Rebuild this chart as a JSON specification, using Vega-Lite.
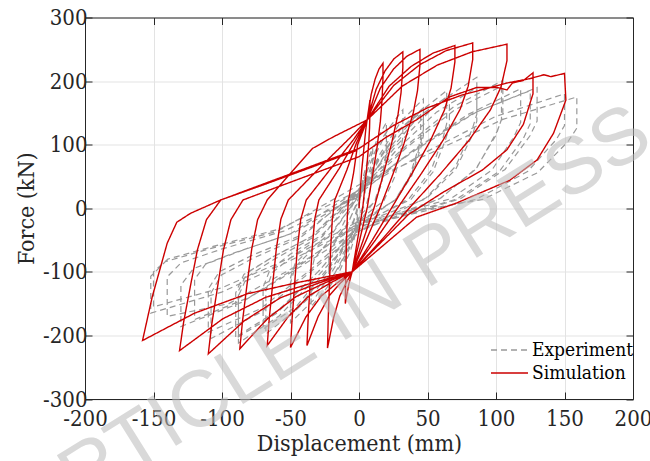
{
"$schema":"https://vega.github.io/schema/vega-lite/v6.json",
"width":548,"height":381.5,
"autosize":{"type":"none"},
"padding":{"left":85,"top":17.5,"right":17,"bottom":62},
"background":"white",
"config":{
 "view":{"stroke":null},
 "axis":{"labelFont":"DejaVu Serif Condensed","labelFontSize":22,"labelColor":"#262626","titleFont":"DejaVu Serif Condensed","titleFontSize":23,"titleFontWeight":"normal","titleColor":"#262626","domainColor":"#262626","domainWidth":1,"tickColor":"#262626","tickSize":-7,"tickWidth":1,"gridColor":"#e3e3e3","gridWidth":1,"labelFlush":false,"labelOverlap":false}
},
"datasets":{"curves":[
{"s":"Experiment","x":0,"y":0},{"s":"Experiment","x":1.65,"y":33},{"s":"Experiment","x":3.3,"y":46},{"s":"Experiment","x":5,"y":55},{"s":"Experiment","x":5,"y":40},{"s":"Experiment","x":4.8,"y":33},{"s":"Experiment","x":4.1,"y":18},{"s":"Experiment","x":2.85,"y":4},{"s":"Experiment","x":0,"y":-15},{"s":"Experiment","x":-1.65,"y":-31},{"s":"Experiment","x":-3.3,"y":-42},{"s":"Experiment","x":-5,"y":-50},
{"s":"Experiment","x":-5,"y":-32.5},{"s":"Experiment","x":-4.65,"y":-25.5},{"s":"Experiment","x":-3.55,"y":-19},{"s":"Experiment","x":-1.95,"y":-11},{"s":"Experiment","x":0,"y":10},{"s":"Experiment","x":3.3,"y":51},{"s":"Experiment","x":6.6,"y":77},{"s":"Experiment","x":10,"y":95},{"s":"Experiment","x":10,"y":68},{"s":"Experiment","x":9.6,"y":57},{"s":"Experiment","x":8.2,"y":30},{"s":"Experiment","x":5.7,"y":8},{"s":"Experiment","x":-1,"y":-10},{"s":"Experiment","x":-3.3,"y":-46.5},{"s":"Experiment","x":-6.6,"y":-69.6},{"s":"Experiment","x":-10,"y":-85},
{"s":"Experiment","x":-10,"y":-55},{"s":"Experiment","x":-9.3,"y":-43},{"s":"Experiment","x":-7.1,"y":-32},{"s":"Experiment","x":-3.9,"y":-19},{"s":"Experiment","x":1,"y":18},{"s":"Experiment","x":6.6,"y":69},{"s":"Experiment","x":13.2,"y":108.6},{"s":"Experiment","x":20,"y":135},{"s":"Experiment","x":20,"y":97},{"s":"Experiment","x":19.2,"y":81},{"s":"Experiment","x":16.4,"y":43},{"s":"Experiment","x":11.4,"y":11},{"s":"Experiment","x":1,"y":-18},{"s":"Experiment","x":-7.26,"y":-64.5},{"s":"Experiment","x":-14.5,"y":-100.8},{"s":"Experiment","x":-22,"y":-125},
{"s":"Experiment","x":-22,"y":-81},{"s":"Experiment","x":-20.5,"y":-64},{"s":"Experiment","x":-15.6,"y":-47.5},{"s":"Experiment","x":-8.6,"y":-27.5},{"s":"Experiment","x":-1,"y":12},{"s":"Experiment","x":6.6,"y":62},{"s":"Experiment","x":13.2,"y":97},{"s":"Experiment","x":20,"y":120},{"s":"Experiment","x":20,"y":86},{"s":"Experiment","x":19.2,"y":72},{"s":"Experiment","x":16.4,"y":38},{"s":"Experiment","x":11.4,"y":10},{"s":"Experiment","x":0,"y":-12},{"s":"Experiment","x":-7.26,"y":-60},{"s":"Experiment","x":-14.5,"y":-93},{"s":"Experiment","x":-22,"y":-115},
{"s":"Experiment","x":-22,"y":-75},{"s":"Experiment","x":-20.5,"y":-59},{"s":"Experiment","x":-15.6,"y":-44},{"s":"Experiment","x":-8.6,"y":-25},{"s":"Experiment","x":2,"y":22},{"s":"Experiment","x":10.6,"y":78},{"s":"Experiment","x":21.1,"y":124},{"s":"Experiment","x":32,"y":155},{"s":"Experiment","x":32,"y":112},{"s":"Experiment","x":30.7,"y":93},{"s":"Experiment","x":26.2,"y":50},{"s":"Experiment","x":18.2,"y":12},{"s":"Experiment","x":-2,"y":-22},{"s":"Experiment","x":-11.55,"y":-78},{"s":"Experiment","x":-23.1,"y":-124},{"s":"Experiment","x":-35,"y":-155},
{"s":"Experiment","x":-35,"y":-101},{"s":"Experiment","x":-32.55,"y":-79},{"s":"Experiment","x":-24.85,"y":-59},{"s":"Experiment","x":-13.65,"y":-34},{"s":"Experiment","x":0,"y":25},{"s":"Experiment","x":15.5,"y":86},{"s":"Experiment","x":31,"y":137.5},{"s":"Experiment","x":47,"y":172},{"s":"Experiment","x":47,"y":124},{"s":"Experiment","x":45.1,"y":103},{"s":"Experiment","x":38.5,"y":55},{"s":"Experiment","x":26.8,"y":14},{"s":"Experiment","x":1,"y":-25},{"s":"Experiment","x":-16.5,"y":-89},{"s":"Experiment","x":-33,"y":-144},{"s":"Experiment","x":-50,"y":-180},
{"s":"Experiment","x":-50,"y":-117},{"s":"Experiment","x":-46.5,"y":-92},{"s":"Experiment","x":-35.5,"y":-68},{"s":"Experiment","x":-19.5,"y":-40},{"s":"Experiment","x":-2,"y":15},{"s":"Experiment","x":15.5,"y":79},{"s":"Experiment","x":31,"y":126.5},{"s":"Experiment","x":47,"y":158},{"s":"Experiment","x":47,"y":114},{"s":"Experiment","x":45.1,"y":95},{"s":"Experiment","x":38.5,"y":51},{"s":"Experiment","x":26.8,"y":13},{"s":"Experiment","x":0,"y":-20},{"s":"Experiment","x":-16.5,"y":-84},{"s":"Experiment","x":-33,"y":-134},{"s":"Experiment","x":-50,"y":-168},
{"s":"Experiment","x":-50,"y":-109},{"s":"Experiment","x":-46.5,"y":-86},{"s":"Experiment","x":-35.5,"y":-64},{"s":"Experiment","x":-19.5,"y":-37},{"s":"Experiment","x":3,"y":28},{"s":"Experiment","x":21.1,"y":91.5},{"s":"Experiment","x":42.2,"y":147.6},{"s":"Experiment","x":64,"y":185},{"s":"Experiment","x":64,"y":133},{"s":"Experiment","x":61.4,"y":111},{"s":"Experiment","x":52.5,"y":59},{"s":"Experiment","x":36.5,"y":15},{"s":"Experiment","x":-2,"y":-30},{"s":"Experiment","x":-22.4,"y":-97},{"s":"Experiment","x":-44.9,"y":-158},{"s":"Experiment","x":-68,"y":-198},
{"s":"Experiment","x":-68,"y":-129},{"s":"Experiment","x":-63.2,"y":-101},{"s":"Experiment","x":-48.3,"y":-75},{"s":"Experiment","x":-26.5,"y":-44},{"s":"Experiment","x":1,"y":32},{"s":"Experiment","x":28.4,"y":101},{"s":"Experiment","x":56.8,"y":164},{"s":"Experiment","x":86,"y":206},{"s":"Experiment","x":86,"y":148},{"s":"Experiment","x":82.6,"y":124},{"s":"Experiment","x":70.5,"y":66},{"s":"Experiment","x":49,"y":16.5},{"s":"Experiment","x":1,"y":-35},{"s":"Experiment","x":-29,"y":-104},{"s":"Experiment","x":-58.1,"y":-169},{"s":"Experiment","x":-88,"y":-212},
{"s":"Experiment","x":-88,"y":-138},{"s":"Experiment","x":-81.8,"y":-108},{"s":"Experiment","x":-62.5,"y":-81},{"s":"Experiment","x":-34.3,"y":-47},{"s":"Experiment","x":-2,"y":20},{"s":"Experiment","x":28.4,"y":94},{"s":"Experiment","x":56.8,"y":151.5},{"s":"Experiment","x":86,"y":190},{"s":"Experiment","x":86,"y":137},{"s":"Experiment","x":82.6,"y":114},{"s":"Experiment","x":70.5,"y":61},{"s":"Experiment","x":49,"y":15},{"s":"Experiment","x":0,"y":-25},{"s":"Experiment","x":-29,"y":-98},{"s":"Experiment","x":-58.1,"y":-159},{"s":"Experiment","x":-88,"y":-200},
{"s":"Experiment","x":-88,"y":-130},{"s":"Experiment","x":-81.8,"y":-102},{"s":"Experiment","x":-62.5,"y":-76},{"s":"Experiment","x":-34.3,"y":-44},{"s":"Experiment","x":2,"y":35},{"s":"Experiment","x":34.65,"y":98.7},{"s":"Experiment","x":69.3,"y":160},{"s":"Experiment","x":105,"y":201},{"s":"Experiment","x":105,"y":145},{"s":"Experiment","x":100.8,"y":121},{"s":"Experiment","x":86.1,"y":64},{"s":"Experiment","x":59.85,"y":16},{"s":"Experiment","x":-2,"y":-38},{"s":"Experiment","x":-35.6,"y":-100.5},{"s":"Experiment","x":-71.3,"y":-163},{"s":"Experiment","x":-108,"y":-205},
{"s":"Experiment","x":-108,"y":-133},{"s":"Experiment","x":-100.4,"y":-105},{"s":"Experiment","x":-76.7,"y":-78},{"s":"Experiment","x":-42.1,"y":-45},{"s":"Experiment","x":0,"y":30},{"s":"Experiment","x":42.9,"y":94},{"s":"Experiment","x":85.8,"y":151.5},{"s":"Experiment","x":130,"y":190},{"s":"Experiment","x":130,"y":137},{"s":"Experiment","x":124.8,"y":114},{"s":"Experiment","x":106.6,"y":61},{"s":"Experiment","x":74.1,"y":15},{"s":"Experiment","x":1,"y":-32},{"s":"Experiment","x":-42.9,"y":-92},{"s":"Experiment","x":-85.8,"y":-148},{"s":"Experiment","x":-130,"y":-186},
{"s":"Experiment","x":-130,"y":-121},{"s":"Experiment","x":-120.9,"y":-95},{"s":"Experiment","x":-92.3,"y":-71},{"s":"Experiment","x":-50.7,"y":-41},{"s":"Experiment","x":-3,"y":25},{"s":"Experiment","x":49.5,"y":89},{"s":"Experiment","x":99,"y":143.7},{"s":"Experiment","x":150,"y":180},{"s":"Experiment","x":150,"y":130},{"s":"Experiment","x":144,"y":108},{"s":"Experiment","x":123,"y":57.6},{"s":"Experiment","x":85.5,"y":14},{"s":"Experiment","x":0,"y":-28},{"s":"Experiment","x":-50.2,"y":-82.5},{"s":"Experiment","x":-100.3,"y":-132},{"s":"Experiment","x":-152,"y":-165},
{"s":"Experiment","x":-152,"y":-107},{"s":"Experiment","x":-141.4,"y":-84},{"s":"Experiment","x":-107.9,"y":-63},{"s":"Experiment","x":-59.3,"y":-36},{"s":"Experiment","x":1,"y":38},{"s":"Experiment","x":52.5,"y":87},{"s":"Experiment","x":105,"y":139.8},{"s":"Experiment","x":159,"y":175},{"s":"Experiment","x":159,"y":126},{"s":"Experiment","x":152.6,"y":105},{"s":"Experiment","x":130.4,"y":56},{"s":"Experiment","x":90.6,"y":14},
{"s":"Experiment","x":0,"y":-20},{"s":"Experiment","x":-50,"y":-78},{"s":"Experiment","x":-100,"y":-125},{"s":"Experiment","x":-150,"y":-155},
{"s":"Experiment","x":-150,"y":-100},{"s":"Experiment","x":-139.5,"y":-80},{"s":"Experiment","x":-106.5,"y":-60},{"s":"Experiment","x":-58.5,"y":-33},{"s":"Experiment","x":2,"y":30},{"s":"Experiment","x":42,"y":95},{"s":"Experiment","x":84,"y":150},{"s":"Experiment","x":125,"y":185},{"s":"Experiment","x":125,"y":133},{"s":"Experiment","x":120,"y":110},{"s":"Experiment","x":102.5,"y":58},{"s":"Experiment","x":71,"y":14},{"s":"Experiment","x":-1,"y":-30},{"s":"Experiment","x":-36,"y":-98},{"s":"Experiment","x":-72,"y":-158},{"s":"Experiment","x":-110,"y":-195},
{"s":"Experiment","x":-110,"y":-127},{"s":"Experiment","x":-102,"y":-100},{"s":"Experiment","x":-78,"y":-74},{"s":"Experiment","x":-43,"y":-43},{"s":"Experiment","x":1,"y":28},{"s":"Experiment","x":35,"y":96},{"s":"Experiment","x":70,"y":155},{"s":"Experiment","x":104,"y":192},{"s":"Experiment","x":104,"y":140},{"s":"Experiment","x":100,"y":115},{"s":"Experiment","x":85,"y":61},{"s":"Experiment","x":59,"y":15},{"s":"Experiment","x":0,"y":-30},{"s":"Experiment","x":-30,"y":-100},{"s":"Experiment","x":-60,"y":-165},{"s":"Experiment","x":-90,"y":-205},
{"s":"Experiment","x":-90,"y":-133},{"s":"Experiment","x":-84,"y":-104},{"s":"Experiment","x":-64,"y":-78},{"s":"Experiment","x":-35,"y":-45},{"s":"Experiment","x":0,"y":25},{"s":"Experiment","x":22,"y":90},{"s":"Experiment","x":44,"y":145},{"s":"Experiment","x":66,"y":178},{"s":"Experiment","x":66,"y":128},{"s":"Experiment","x":63,"y":107},{"s":"Experiment","x":54,"y":57},{"s":"Experiment","x":38,"y":14},{"s":"Experiment","x":0,"y":-25},{"s":"Experiment","x":-23,"y":-95},{"s":"Experiment","x":-46,"y":-155},{"s":"Experiment","x":-70,"y":-190},
{"s":"Experiment","x":-70,"y":-124},{"s":"Experiment","x":-65,"y":-97},{"s":"Experiment","x":-50,"y":-72},{"s":"Experiment","x":-27,"y":-42},{"s":"Experiment","x":0,"y":20},{"s":"Experiment","x":15,"y":80},{"s":"Experiment","x":30,"y":125},{"s":"Experiment","x":45,"y":150},
{"s":"Experiment","x":45,"y":110},{"s":"Experiment","x":43,"y":92},{"s":"Experiment","x":37,"y":50},{"s":"Experiment","x":26,"y":12},{"s":"Experiment","x":0,"y":-22},{"s":"Experiment","x":-40,"y":-85},{"s":"Experiment","x":-80,"y":-140},{"s":"Experiment","x":-120,"y":-175},
{"s":"Experiment","x":-120,"y":-112},{"s":"Experiment","x":-112,"y":-88},{"s":"Experiment","x":-85,"y":-66},{"s":"Experiment","x":-47,"y":-38},{"s":"Experiment","x":0,"y":22},{"s":"Experiment","x":40,"y":92},{"s":"Experiment","x":80,"y":148},{"s":"Experiment","x":118,"y":188},{"s":"Experiment","x":118,"y":135},{"s":"Experiment","x":113,"y":112},{"s":"Experiment","x":97,"y":60},{"s":"Experiment","x":67,"y":15},{"s":"Experiment","x":0,"y":-26},{"s":"Experiment","x":-45,"y":-90},{"s":"Experiment","x":-95,"y":-150},{"s":"Experiment","x":-140,"y":-170},
{"s":"Experiment","x":-140,"y":-108},{"s":"Experiment","x":-130,"y":-86},{"s":"Experiment","x":-100,"y":-64},{"s":"Experiment","x":-55,"y":-36},{"s":"Experiment","x":0,"y":18},
{"s":"Simulation","x":0,"y":0},{"s":"Simulation","x":2,"y":60},{"s":"Simulation","x":5,"y":125},{"s":"Simulation","x":8,"y":170},
{"s":"Simulation","x":8,"y":153},{"s":"Simulation","x":7.7,"y":126},{"s":"Simulation","x":7.1,"y":102},{"s":"Simulation","x":5.9,"y":70},{"s":"Simulation","x":4.4,"y":36},{"s":"Simulation","x":2.8,"y":2},{"s":"Simulation","x":-1.1,"y":-50},{"s":"Simulation","x":-5,"y":-100},{"s":"Simulation","x":-7.5,"y":-120},{"s":"Simulation","x":-10,"y":-150},
{"s":"Simulation","x":-9.8,"y":-120},{"s":"Simulation","x":-9.4,"y":-82},{"s":"Simulation","x":-9,"y":-44},{"s":"Simulation","x":-8.5,"y":-12},{"s":"Simulation","x":-7.7,"y":13},
{"s":"Simulation","x":-4,"y":55},{"s":"Simulation","x":-1,"y":100},{"s":"Simulation","x":6,"y":139},{"s":"Simulation","x":8.9,"y":179},{"s":"Simulation","x":11.75,"y":203},{"s":"Simulation","x":14.6,"y":219},{"s":"Simulation","x":17.5,"y":228},
{"s":"Simulation","x":17.5,"y":205},{"s":"Simulation","x":16.8,"y":169},{"s":"Simulation","x":15.6,"y":137},{"s":"Simulation","x":13,"y":93},{"s":"Simulation","x":9.6,"y":48},{"s":"Simulation","x":6.1,"y":2},{"s":"Simulation","x":0.5,"y":-50},{"s":"Simulation","x":-5,"y":-100},
{"s":"Simulation","x":-9.5,"y":-118},{"s":"Simulation","x":-14,"y":-138},{"s":"Simulation","x":-18.5,"y":-172},{"s":"Simulation","x":-23,"y":-220},
{"s":"Simulation","x":-22.5,"y":-176},{"s":"Simulation","x":-21.6,"y":-121},{"s":"Simulation","x":-20.7,"y":-64},{"s":"Simulation","x":-19.5,"y":-18},{"s":"Simulation","x":-17.7,"y":13},
{"s":"Simulation","x":-8.9,"y":60},{"s":"Simulation","x":-2,"y":102},{"s":"Simulation","x":6,"y":139},{"s":"Simulation","x":12.5,"y":187},{"s":"Simulation","x":19,"y":216},{"s":"Simulation","x":25.5,"y":235},{"s":"Simulation","x":32,"y":246},
{"s":"Simulation","x":32,"y":221},{"s":"Simulation","x":30.7,"y":182},{"s":"Simulation","x":28.5,"y":148},{"s":"Simulation","x":23.7,"y":101},{"s":"Simulation","x":17.6,"y":52},{"s":"Simulation","x":11.2,"y":2},{"s":"Simulation","x":3.1,"y":-50},{"s":"Simulation","x":-5,"y":-100},
{"s":"Simulation","x":-13.25,"y":-117},{"s":"Simulation","x":-21.5,"y":-137},{"s":"Simulation","x":-29.75,"y":-170},{"s":"Simulation","x":-38,"y":-216},
{"s":"Simulation","x":-37.1,"y":-173},{"s":"Simulation","x":-35.7,"y":-119},{"s":"Simulation","x":-34.2,"y":-63},{"s":"Simulation","x":-32.3,"y":-17},{"s":"Simulation","x":-29.3,"y":13},
{"s":"Simulation","x":-14.6,"y":62},{"s":"Simulation","x":-3,"y":105},{"s":"Simulation","x":6,"y":139},{"s":"Simulation","x":15.6,"y":189},{"s":"Simulation","x":25.25,"y":219},{"s":"Simulation","x":34.9,"y":239},{"s":"Simulation","x":44.5,"y":250},
{"s":"Simulation","x":44.5,"y":225},{"s":"Simulation","x":42.7,"y":185},{"s":"Simulation","x":39.6,"y":150},{"s":"Simulation","x":32.9,"y":102},{"s":"Simulation","x":24.5,"y":52},{"s":"Simulation","x":15.6,"y":2},{"s":"Simulation","x":5.3,"y":-50},{"s":"Simulation","x":-5,"y":-100},
{"s":"Simulation","x":-16.25,"y":-118},{"s":"Simulation","x":-27.5,"y":-138},{"s":"Simulation","x":-38.75,"y":-171},{"s":"Simulation","x":-50,"y":-219},
{"s":"Simulation","x":-48.85,"y":-175},{"s":"Simulation","x":-47,"y":-120},{"s":"Simulation","x":-45,"y":-63},{"s":"Simulation","x":-42.5,"y":-17},{"s":"Simulation","x":-38.5,"y":13},
{"s":"Simulation","x":-19.25,"y":66},{"s":"Simulation","x":-4,"y":108},{"s":"Simulation","x":6,"y":139},{"s":"Simulation","x":22,"y":192},{"s":"Simulation","x":38,"y":223},{"s":"Simulation","x":54,"y":244},{"s":"Simulation","x":70,"y":256},
{"s":"Simulation","x":70,"y":230},{"s":"Simulation","x":67.2,"y":189},{"s":"Simulation","x":62.3,"y":154},{"s":"Simulation","x":51.8,"y":105},{"s":"Simulation","x":38.5,"y":54},{"s":"Simulation","x":24.5,"y":3},{"s":"Simulation","x":9.75,"y":-50},{"s":"Simulation","x":-5,"y":-100},
{"s":"Simulation","x":-20.5,"y":-117},{"s":"Simulation","x":-36,"y":-137},{"s":"Simulation","x":-51.5,"y":-170},{"s":"Simulation","x":-67,"y":-216},
{"s":"Simulation","x":-65.5,"y":-173},{"s":"Simulation","x":-63,"y":-119},{"s":"Simulation","x":-60.3,"y":-63},{"s":"Simulation","x":-57,"y":-17},{"s":"Simulation","x":-51.6,"y":13},
{"s":"Simulation","x":-25.8,"y":70},{"s":"Simulation","x":-6,"y":112},{"s":"Simulation","x":6,"y":139},{"s":"Simulation","x":25.25,"y":193},{"s":"Simulation","x":44.5,"y":226},{"s":"Simulation","x":63.75,"y":248},{"s":"Simulation","x":83,"y":260},
{"s":"Simulation","x":83,"y":234},{"s":"Simulation","x":79.7,"y":192},{"s":"Simulation","x":73.9,"y":156},{"s":"Simulation","x":61.4,"y":107},{"s":"Simulation","x":45.65,"y":55},{"s":"Simulation","x":29,"y":3},{"s":"Simulation","x":12,"y":-50},{"s":"Simulation","x":-5,"y":-100},
{"s":"Simulation","x":-25.5,"y":-118},{"s":"Simulation","x":-46,"y":-139},{"s":"Simulation","x":-66.5,"y":-173},{"s":"Simulation","x":-87,"y":-221},
{"s":"Simulation","x":-85,"y":-177},{"s":"Simulation","x":-81.8,"y":-121},{"s":"Simulation","x":-78.3,"y":-64},{"s":"Simulation","x":-74,"y":-18},{"s":"Simulation","x":-67,"y":13},
{"s":"Simulation","x":-48,"y":60},{"s":"Simulation","x":-34,"y":94},{"s":"Simulation","x":-19,"y":112},{"s":"Simulation","x":6,"y":139},{"s":"Simulation","x":31.5,"y":192},{"s":"Simulation","x":57,"y":225},{"s":"Simulation","x":82.5,"y":246},{"s":"Simulation","x":108,"y":258},
{"s":"Simulation","x":108,"y":232},{"s":"Simulation","x":103.7,"y":191},{"s":"Simulation","x":96,"y":155},{"s":"Simulation","x":80,"y":106},{"s":"Simulation","x":59.4,"y":54},{"s":"Simulation","x":37.8,"y":3},{"s":"Simulation","x":16.4,"y":-50},{"s":"Simulation","x":-5,"y":-100},
{"s":"Simulation","x":-31.25,"y":-119},{"s":"Simulation","x":-57.5,"y":-141},{"s":"Simulation","x":-83.75,"y":-177},{"s":"Simulation","x":-110,"y":-229},
{"s":"Simulation","x":-107.5,"y":-183},{"s":"Simulation","x":-103.4,"y":-126},{"s":"Simulation","x":-99,"y":-66},{"s":"Simulation","x":-93.5,"y":-18},{"s":"Simulation","x":-84.7,"y":13},
{"s":"Simulation","x":-60,"y":33},{"s":"Simulation","x":-30,"y":57},{"s":"Simulation","x":0,"y":81},{"s":"Simulation","x":20,"y":112},{"s":"Simulation","x":42,"y":139},{"s":"Simulation","x":66,"y":175},{"s":"Simulation","x":86,"y":190},{"s":"Simulation","x":101,"y":190},{"s":"Simulation","x":108,"y":186},{"s":"Simulation","x":112,"y":197},{"s":"Simulation","x":120,"y":201},{"s":"Simulation","x":127,"y":213},
{"s":"Simulation","x":127,"y":180},{"s":"Simulation","x":120,"y":132},{"s":"Simulation","x":108,"y":92},{"s":"Simulation","x":90,"y":60},{"s":"Simulation","x":62,"y":26},{"s":"Simulation","x":36,"y":-10},{"s":"Simulation","x":-5,"y":-100},
{"s":"Simulation","x":-36.5,"y":-119},{"s":"Simulation","x":-68,"y":-140},{"s":"Simulation","x":-99.5,"y":-174},{"s":"Simulation","x":-131,"y":-224},
{"s":"Simulation","x":-128,"y":-179},{"s":"Simulation","x":-123.1,"y":-123},{"s":"Simulation","x":-117.9,"y":-65},{"s":"Simulation","x":-111.35,"y":-18},{"s":"Simulation","x":-100.9,"y":13},
{"s":"Simulation","x":-75,"y":34},{"s":"Simulation","x":-50,"y":54},{"s":"Simulation","x":-25,"y":74},{"s":"Simulation","x":0,"y":94},{"s":"Simulation","x":25,"y":130},{"s":"Simulation","x":50,"y":158},{"s":"Simulation","x":75,"y":178},{"s":"Simulation","x":96,"y":190},{"s":"Simulation","x":108,"y":197},{"s":"Simulation","x":125,"y":204},{"s":"Simulation","x":135,"y":210},{"s":"Simulation","x":140,"y":207},{"s":"Simulation","x":150,"y":212},
{"s":"Simulation","x":151,"y":170},{"s":"Simulation","x":142,"y":118},{"s":"Simulation","x":130,"y":76},{"s":"Simulation","x":110,"y":44},{"s":"Simulation","x":71,"y":8},{"s":"Simulation","x":42,"y":-14},{"s":"Simulation","x":-5,"y":-100},
{"s":"Simulation","x":-43,"y":-116},{"s":"Simulation","x":-81.5,"y":-134.5},{"s":"Simulation","x":-120,"y":-165},{"s":"Simulation","x":-158,"y":-208},
{"s":"Simulation","x":-151,"y":-140},{"s":"Simulation","x":-140,"y":-55},{"s":"Simulation","x":-133,"y":-22},{"s":"Simulation","x":-123,"y":-8},{"s":"Simulation","x":-101,"y":13},{"s":"Simulation","x":-67,"y":39},{"s":"Simulation","x":-34,"y":65},{"s":"Simulation","x":-1.5,"y":91}
]},
"layer":[
 {"data":{"name":"curves"},"transform":[{"filter":"datum.s === 'Experiment'"}],
  "mark":{"type":"line","strokeWidth":1.2},
  "encoding":{
   "x":{"field":"x","type":"quantitative","scale":{"domain":[-200,200],"nice":false,"zero":false},"axis":{"orient":"bottom","values":[-200,-150,-100,-50,0,50,100,150,200],"labelExpr":"toString(datum.value)","title":"Displacement (mm)","grid":true,"labelPadding":16,"titlePadding":3}},
   "y":{"field":"y","type":"quantitative","scale":{"domain":[-300,300],"nice":false,"zero":false},"axis":{"orient":"left","values":[-300,-200,-100,0,100,200,300],"labelExpr":"toString(datum.value)","title":"Force (kN)","grid":true,"labelPadding":5,"titlePadding":4}},
   "color":{"field":"s","type":"nominal","scale":{"domain":["Experiment","Simulation"],"range":["#999999","#cc0000"]},
     "legend":{"title":null,"orient":"none","legendX":405,"legendY":322,"labelFont":"DejaVu Serif Condensed","labelFontSize":19,"labelColor":"#000000","symbolType":"stroke","symbolSize":1369,"symbolStrokeWidth":1.3,"labelOffset":3,"clipHeight":21,"rowPadding":2,"padding":0}},
   "strokeDash":{"field":"s","type":"nominal","scale":{"domain":["Experiment","Simulation"],"range":[[6,4],[1,0]]}},
   "order":{"value":null}
  }},
 {"data":{"name":"curves"},"transform":[{"filter":"datum.s === 'Simulation'"}],
  "mark":{"type":"line","strokeWidth":1.4},
  "encoding":{
   "x":{"field":"x","type":"quantitative","scale":{"domain":[-200,200],"nice":false,"zero":false},"axis":null},
   "y":{"field":"y","type":"quantitative","scale":{"domain":[-300,300],"nice":false,"zero":false},"axis":null},
   "color":{"field":"s","type":"nominal"},
   "strokeDash":{"field":"s","type":"nominal"},
   "order":{"value":null}
  }},
 {"data":{"values":[{"x":0,"y":0}]},
  "mark":{"type":"point","opacity":0},
  "encoding":{
   "x":{"field":"x","type":"quantitative","scale":{"domain":[-200,200],"nice":false,"zero":false},"axis":{"orient":"top","values":[-200,-150,-100,-50,0,50,100,150,200],"labels":false,"title":null,"grid":false}},
   "y":{"field":"y","type":"quantitative","scale":{"domain":[-300,300],"nice":false,"zero":false},"axis":{"orient":"right","values":[-300,-200,-100,0,100,200,300],"labels":false,"title":null,"grid":false}}
  }},
 {"data":{"values":[{"x":-19,"y":-175,"t":"ARTICLE IN PRESS"}]},
  "mark":{"type":"text","angle":-32,"fontSize":80,"font":"Liberation Sans","color":"#bbbbbb","opacity":0.55,"align":"center","baseline":"middle"},
  "encoding":{
   "x":{"field":"x","type":"quantitative","axis":null},
   "y":{"field":"y","type":"quantitative","axis":null},
   "text":{"field":"t"}
  }}
],
"resolve":{"axis":{"x":"independent","y":"independent"}}
}
